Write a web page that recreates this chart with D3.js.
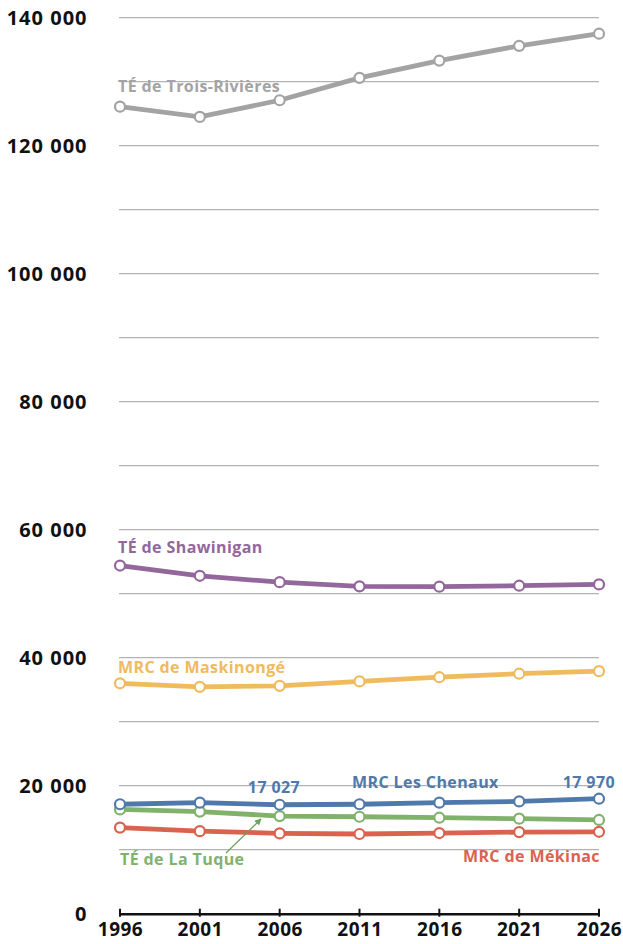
<!DOCTYPE html>
<html>
<head>
<meta charset="utf-8">
<script src="https://cdn.jsdelivr.net/npm/d3@7/dist/d3.min.js"></script>
<style>
  body { margin: 0; background: #fff; }
  svg { display: block; font-family: "Open Sans", sans-serif; }
</style>
</head>
<body>
<svg id="chart" width="623" height="944"></svg>
<script>
const years = [1996, 2001, 2006, 2011, 2016, 2021, 2026];
const yTicks = [0, 20000, 40000, 60000, 80000, 100000, 120000, 140000];

// population by territory
const troisRivieres = [126100, 124500, 127100, 130600, 133300, 135600, 137500];
const shawinigan = [54400, 52800, 51800, 51150, 51100, 51250, 51450];
const maskinonge = [36000, 35450, 35600, 36300, 36950, 37500, 37900];
const lesChenaux = [17100, 17350, 17027, 17100, 17350, 17550, 17970];
const laTuque = [16300, 15950, 15250, 15150, 15000, 14850, 14650];
const mekinac = [13450, 12900, 12550, 12450, 12600, 12750, 12800];

const series = [
  { name: "TÉ de Trois-Rivières", values: troisRivieres, color: "#a3a3a3" },
  { name: "TÉ de Shawinigan", values: shawinigan, color: "#93679b" },
  { name: "MRC de Maskinongé", values: maskinonge, color: "#f0ba5e" },
  { name: "MRC de Mékinac", values: mekinac, color: "#d9634f" },
  { name: "TÉ de La Tuque", values: laTuque, color: "#80b26c" },
  { name: "MRC Les Chenaux", values: lesChenaux, color: "#4f79aa" }
];

const svg = d3.select("#chart");

const x = d3.scaleLinear().domain([1996, 2026]).range([120, 599]);
const y = d3.scaleLinear().domain([0, 140000]).range([913.7, 17.7]);

const fmt = d => d3.format(",")(d).replace(/,/g, " ");

// gridlines every 10 000
svg.append("g")
  .selectAll("line")
  .data(d3.range(10000, 140001, 10000))
  .enter()
  .append("line")
  .attr("x1", 119)
  .attr("x2", 599)
  .attr("y1", d => y(d))
  .attr("y2", d => y(d))
  .attr("stroke", "#b3b3b3")
  .attr("stroke-width", 1.2);

// y labels
svg.append("g")
  .selectAll("text")
  .data(yTicks)
  .enter()
  .append("text")
  .attr("x", 87.5)
  .attr("y", d => y(d) + 6.8)
  .attr("text-anchor", "end")
  .attr("font-size", 20)
  .attr("font-weight", 700)
  .attr("letter-spacing", 1)
  .attr("fill", "#111")
  .text(fmt);

// x axis
const xAxis = svg.append("g")
  .attr("transform", `translate(0,${y(0)})`)
  .call(d3.axisBottom(x).tickValues(years).tickFormat(d3.format("d")).tickSize(0).tickPadding(9));
xAxis.select(".domain").attr("stroke", "#111").attr("stroke-width", 2.5);
xAxis.selectAll("text")
  .attr("font-family", "Open Sans, sans-serif")
  .attr("font-size", 19)
  .attr("font-weight", 700)
  .attr("letter-spacing", 0.5)
  .attr("fill", "#111");
xAxis.selectAll(".tick line").remove();
svg.append("g")
  .selectAll("line")
  .data(years)
  .enter()
  .append("line")
  .attr("x1", d => x(d))
  .attr("x2", d => x(d))
  .attr("y1", y(0) - 5)
  .attr("y2", y(0) + 3)
  .attr("stroke", "#111")
  .attr("stroke-width", 2);

const line = d3.line()
  .x((d, i) => x(years[i]))
  .y(d => y(d));

series.forEach(s => {
  const g = svg.append("g");
  g.append("path")
    .datum(s.values)
    .attr("d", line)
    .attr("fill", "none")
    .attr("stroke", s.color)
    .attr("stroke-width", 4.8);
  g.selectAll("circle")
    .data(s.values)
    .enter()
    .append("circle")
    .attr("cx", (d, i) => x(years[i]))
    .attr("cy", d => y(d))
    .attr("r", 5)
    .attr("fill", "#fff")
    .attr("stroke", s.color)
    .attr("stroke-width", 2.2);
});

// series labels
const labels = [
  { text: "TÉ de Trois-Rivières", x: 118, y: 92, color: "#a3a3a3", anchor: "start" },
  { text: "TÉ de Shawinigan", x: 118, y: 553, color: "#93679b", anchor: "start" },
  { text: "MRC de Maskinongé", x: 118, y: 673, color: "#f0ba5e", anchor: "start" },
  { text: "17 027", x: 274, y: 793, color: "#4f79aa", anchor: "middle" },
  { text: "MRC Les Chenaux", x: 352, y: 788, color: "#4f79aa", anchor: "start" },
  { text: "17 970", x: 615, y: 788, color: "#4f79aa", anchor: "end" },
  { text: "TÉ de La Tuque", x: 120, y: 865, color: "#80b26c", anchor: "start" },
  { text: "MRC de Mékinac", x: 600, y: 862, color: "#d9634f", anchor: "end" }
];
svg.append("g")
  .selectAll("text")
  .data(labels)
  .enter()
  .append("text")
  .attr("x", d => d.x)
  .attr("y", d => d.y)
  .attr("text-anchor", d => d.anchor)
  .attr("fill", d => d.color)
  .attr("font-size", 16)
  .attr("font-weight", 700)
  .attr("letter-spacing", 0.4)
  .text(d => d.text);

// arrow pointing at La Tuque 2006
svg.append("defs").append("marker")
  .attr("id", "arrow")
  .attr("viewBox", "0 0 10 10")
  .attr("refX", 9)
  .attr("refY", 5)
  .attr("markerWidth", 5)
  .attr("markerHeight", 5)
  .attr("orient", "auto")
  .append("path")
  .attr("d", "M0,0L10,5L0,10z")
  .attr("fill", "#6aa25a");
svg.append("line")
  .attr("x1", 226)
  .attr("y1", 853)
  .attr("x2", 261)
  .attr("y2", 819)
  .attr("stroke", "#6aa25a")
  .attr("stroke-width", 1.3)
  .attr("marker-end", "url(#arrow)");
</script>
</body>
</html>
